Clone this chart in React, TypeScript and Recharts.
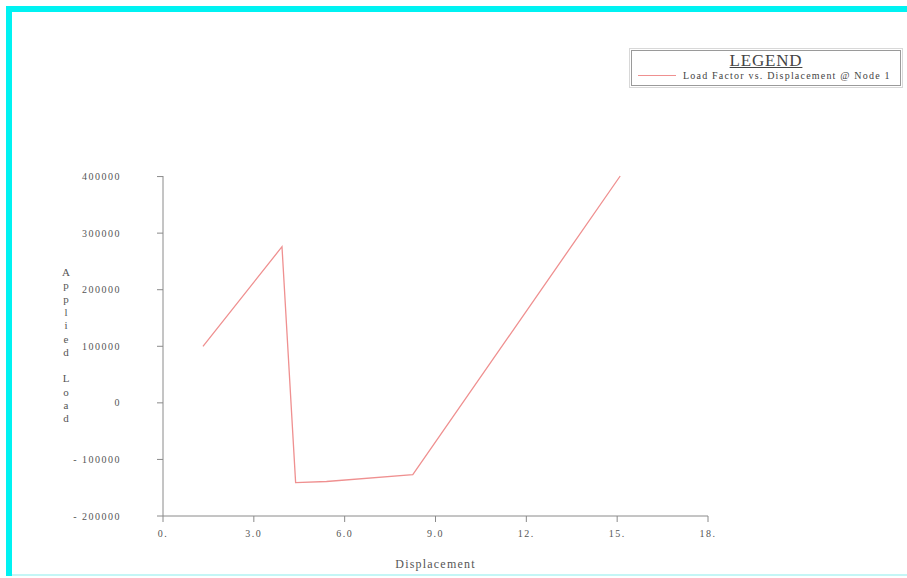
import React from 'react';
import { LineChart, Line, XAxis, YAxis, Label } from 'recharts';

// displacement vs applied load
const displacement = [1.32, 3.93, 4.38, 5.4, 8.25, 15.1];
const appliedLoad = [100000, 276000, -141000, -139000, -127000, 401000];

const xTicks = [0, 3, 6, 9, 12, 15, 18];
const xTickLabels = ['0.', '3.0', '6.0', '9.0', '12.', '15.', '18.'];
const yTicks = [-200000, -100000, 0, 100000, 200000, 300000, 400000];
const yTickLabels = ['- 200000', '- 100000', '0', '100000', '200000', '300000', '400000'];

const seriesName = 'Load Factor vs. Displacement @ Node 1';

const data = displacement.map((d, i) => ({ d, load: appliedLoad[i] }));

const FONT = '"Liberation Serif", "DejaVu Serif", serif';
const LINE = '#ef9090';
const AXIS = '#8a8a8a';

// legend drawn outside the chart so recharts doesn't reserve room for it
const LegendBox = () => (
  <div
    style={{
      position: 'absolute',
      left: 631,
      top: 50,
      width: 270,
      height: 36,
      border: '1px solid #9a9a9a',
      outline: '1px solid #d8d8d8',
      outlineOffset: 1,
      background: '#fff',
      fontFamily: FONT,
      color: '#444',
      boxSizing: 'border-box',
    }}
  >
    <div
      style={{
        textAlign: 'center',
        fontSize: 17,
        lineHeight: '17px',
        letterSpacing: 0.8,
        paddingTop: 1,
        textDecoration: 'underline',
      }}
    >
      LEGEND
    </div>
    <div style={{ display: 'flex', alignItems: 'center', fontSize: 10, letterSpacing: 1.2, marginTop: 1, whiteSpace: 'nowrap' }}>
      <span style={{ display: 'inline-block', width: 38, height: 1, background: LINE, marginLeft: 6, marginRight: 7 }} />
      <span>{seriesName}</span>
    </div>
  </div>
);

const YLabel = () => {
  const letters = 'Applied Load'.split('');
  return (
    <text x={66} y={276} fill="#555" fontSize={11} fontFamily={FONT} textAnchor="middle">
      {letters.map((c, i) => (
        <tspan key={i} x={66} y={276 + i * 13.3}>
          {c === ' ' ? '\u00a0' : c}
        </tspan>
      ))}
    </text>
  );
};

export default function App() {
  return (
    <div style={{ position: 'absolute', left: 0, top: 0, width: 907, height: 578, background: '#fff' }}>
      <div style={{ position: 'absolute', left: 6, top: 6, width: 901, height: 6, background: '#00f2f2' }} />
      <div style={{ position: 'absolute', left: 6, top: 6, width: 6, height: 570, background: '#00f2f2' }} />
      <div style={{ position: 'absolute', left: 12, top: 574, width: 895, height: 2, background: '#c4f6f6' }} />
      <div style={{ position: 'absolute', left: 0, top: 0 }}>
        <LineChart width={907} height={578} data={data} margin={{ top: 176, right: 199, bottom: 32, left: 103 }}>
          <XAxis
            dataKey="d"
            type="number"
            domain={[0, 18]}
            ticks={xTicks}
            interval={0}
            tickFormatter={(v: number) => xTickLabels[xTicks.indexOf(v)]}
            stroke={AXIS}
            tickSize={6}
            tickMargin={8}
            height={30}
            tick={{ fill: '#555', fontSize: 10, fontFamily: FONT, letterSpacing: 1.5 }}
          >
            <Label
              value="Displacement"
              position="bottom"
              offset={13}
              fill="#555"
              fontSize={12}
              letterSpacing={1.2}
              fontFamily={FONT}
            />
          </XAxis>
          <YAxis
            type="number"
            domain={[-200000, 400000]}
            ticks={yTicks}
            interval={0}
            tickFormatter={(v: number) => yTickLabels[yTicks.indexOf(v)]}
            stroke={AXIS}
            tickSize={6}
            tickMargin={36}
            width={60}
            tick={{ fill: '#555', fontSize: 10, fontFamily: FONT, letterSpacing: 1.5 }}
          >
            <Label content={<YLabel />} />
          </YAxis>
          <Line
            type="linear"
            dataKey="load"
            name={seriesName}
            stroke={LINE}
            strokeWidth={1.3}
            dot={false}
            isAnimationActive={false}
          />
        </LineChart>
      </div>
      <LegendBox />
    </div>
  );
}
